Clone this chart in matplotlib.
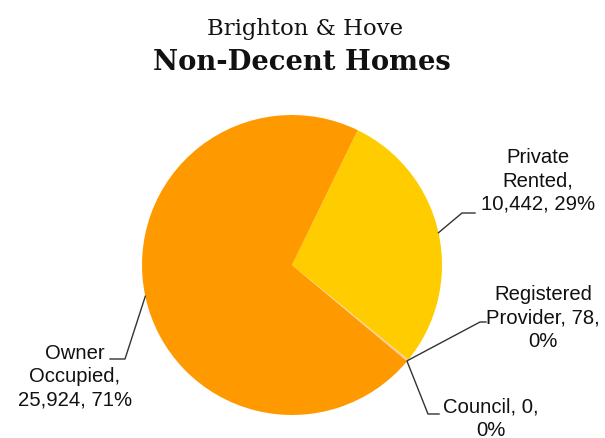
import numpy as np
import matplotlib
matplotlib.use("Agg")
import matplotlib.pyplot as plt

# data
categories = ["Private Rented", "Registered Provider", "Council", "Owner Occupied"]
homes = [10442, 78, 0, 25924]
label_names = ["Private\nRented", "Registered\nProvider", "Council", "Owner\nOccupied"]
colors = ["#FFCC00", "#FFCC99", "#FF9966", "#FF9900"]

total = sum(homes)

fig = plt.figure(figsize=(6.05, 4.39), dpi=100)
ax = fig.add_axes([0, 0, 1, 1])

cx, cy, r = 292, 173, 150
wedges, _ = ax.pie(homes, colors=colors, startangle=64, counterclock=False,
                   center=(cx, cy), radius=r, wedgeprops=dict(linewidth=0))

ax.set_xlim(0, 605)
ax.set_ylim(0, 439)
ax.set_aspect("equal")
ax.axis("off")

# label layout (pixel positions, y measured from top)
elbow = [(462, 214), (480, 323), (428, 415), (125, 360)]
line_end = [(475, 214), (486, 323), (439, 415), (110, 360)]
text_pos = [(538, 181), (543, 318), (491, 419), (75, 377)]

def fmt(name, v):
    pct = round(100 * v / total)
    if name in ("Council", "Registered\nProvider"):
        return f"{name}, {v:,},\n{pct}%"
    return f"{name},\n{v:,}, {pct}%"

for i, w in enumerate(wedges):
    mid = np.deg2rad((w.theta1 + w.theta2) / 2)
    px, py = cx + r * np.cos(mid), cy + r * np.sin(mid)
    ex, ey = elbow[i]
    lx, ly = line_end[i]
    ax.plot([px, ex, lx], [py, 439 - ey, 439 - ly], color="#333333", lw=1.0)
    tx, ty = text_pos[i]
    ax.text(tx, 439 - ty, fmt(label_names[i], homes[i]), ha="center", va="center",
            multialignment="center", fontsize=14.6, family="Liberation Sans",
            color="#111111", linespacing=1.3)

ax.text(305, 439 - 29, "Brighton & Hove", ha="center", va="center",
        fontsize=16.4, family="DejaVu Serif", color="#111111")
ax.text(302, 439 - 63, "Non-Decent Homes", ha="center", va="center",
        fontsize=19.7, family="DejaVu Serif", fontweight="bold", color="#111111")

fig.savefig("out.png", dpi=100)
